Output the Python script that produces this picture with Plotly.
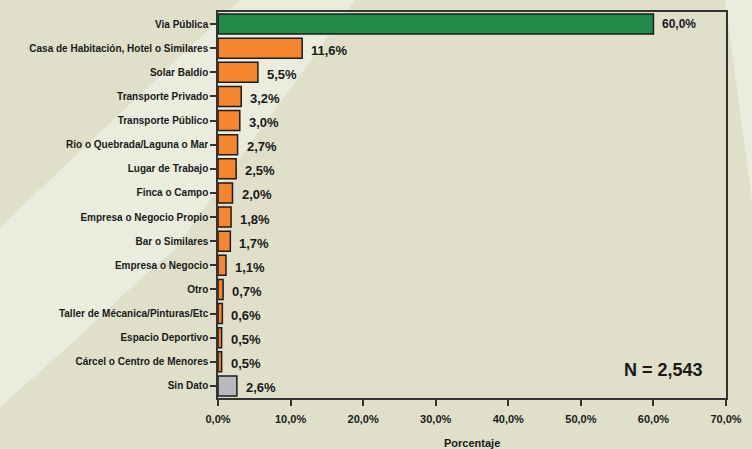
import plotly.graph_objects as go

categories = [
    "Via Pública", "Casa de Habitación, Hotel o Similares", "Solar Baldío",
    "Transporte Privado", "Transporte Público", "Rio o Quebrada/Laguna o Mar",
    "Lugar de Trabajo", "Finca o Campo", "Empresa o Negocio Propio",
    "Bar o Similares", "Empresa o Negocio", "Otro",
    "Taller de Mécanica/Pinturas/Etc", "Espacio Deportivo",
    "Cárcel o Centro de Menores", "Sin Dato",
]
values = [60.0, 11.6, 5.5, 3.2, 3.0, 2.7, 2.5, 2.0, 1.8, 1.7, 1.1, 0.7, 0.6, 0.5, 0.5, 2.6]
bar_colors = ["#218a48"] + ["#f5862e"] * 14 + ["#b9babf"]
label_sizes = [12] + [13] * 15
tick_vals = [0, 10, 20, 30, 40, 50, 60, 70]
tick_text = ["<b>" + f"{v:.1f}%".replace(".", ",") + "</b>" for v in tick_vals]
n_text = "N = 2,543"
x_title = "Porcentaje"

W, H = 752, 449
ML, MR, MT, MB = 218, 26, 12, 51
PW, PH = W - ML - MR, H - MT - MB


def px(x, y):
    return ((x - ML) / PW, (H - MB - y) / PH)


def path(points):
    pts = [px(x, y) for x, y in points]
    return "M " + " L ".join(f"{a:.4f},{b:.4f}" for a, b in pts) + " Z"


FONT = "Liberation Sans, Arial, sans-serif"

fig = go.Figure()
fig.add_trace(go.Bar(
    y=categories,
    x=values,
    orientation="h",
    marker=dict(color=bar_colors, line=dict(color="#1c1c1c", width=1.5)),
    hoverinfo="skip",
))

annotations = []
for i, (c, v) in enumerate(zip(categories, values)):
    annotations.append(dict(
        x=v, y=c, xref="x", yref="y",
        text="<b>" + f"{v:.1f}%".replace(".", ",") + "</b>",
        xanchor="left", yanchor="middle", showarrow=False,
        xshift=7, yshift=(0 if i == 0 else -2),
        font=dict(family=FONT, size=label_sizes[i], color="#1a1a1a"),
    ))
annotations.append(dict(
    text="<b>" + n_text + "</b>", xref="paper", yref="paper",
    x=px(705, 0)[0], y=px(0, 370)[1], xanchor="right", yanchor="middle", showarrow=False,
    font=dict(family=FONT, size=18, color="#1a1a1a"),
))
annotations.append(dict(
    text="<b>" + x_title + "</b>", xref="paper", yref="paper",
    x=0.5, y=px(0, 443)[1], xanchor="center", yanchor="middle", showarrow=False,
    font=dict(family=FONT, size=11, color="#1a1a1a"),
))

shapes = [
    dict(type="path", xref="paper", yref="paper", layer="below",
         path=path([(240, 0), (355, 0), (260, 130), (173, 252), (150, 270), (70, 345), (0, 407), (0, 227)]),
         fillcolor="#eaecdd", line=dict(width=0)),
    dict(type="path", xref="paper", yref="paper", layer="below",
         path=path([(725, 0), (752, 0), (752, 200)]),
         fillcolor="#eaecdd", line=dict(width=0)),
]

fig.update_layout(
    width=W, height=H,
    margin=dict(l=ML, r=MR, t=MT, b=MB, autoexpand=False),
    paper_bgcolor="#dfdfca",
    plot_bgcolor="rgba(0,0,0,0)",
    bargap=0.17,
    showlegend=False,
    shapes=shapes,
    annotations=annotations,
    font=dict(family=FONT, color="#1a1a1a"),
    xaxis=dict(
        range=[0, 70], tickvals=tick_vals, ticktext=tick_text,
        showgrid=False, zeroline=False, automargin=False,
        showline=True, linecolor="#333333", linewidth=1.5, mirror=True,
        ticks="outside", ticklen=6, tickcolor="#333333", tickwidth=1.5,
        tickfont=dict(family=FONT, size=11, color="#1a1a1a"),
        ticklabelstandoff=4,
    ),
    yaxis=dict(
        autorange="reversed", showgrid=False, zeroline=False, automargin=False,
        showline=True, linecolor="#333333", linewidth=1.5, mirror=True,
        ticks="outside", ticklen=6, tickcolor="#333333", tickwidth=1.5,
        tickfont=dict(family=FONT, size=10, color="#1a1a1a", weight="bold"),
    ),
)

fig.write_html(
    "out.html",
    config={"displayModeBar": False},
    post_script="document.body.style.margin='0';document.body.style.background='#dfdfca';",
)
